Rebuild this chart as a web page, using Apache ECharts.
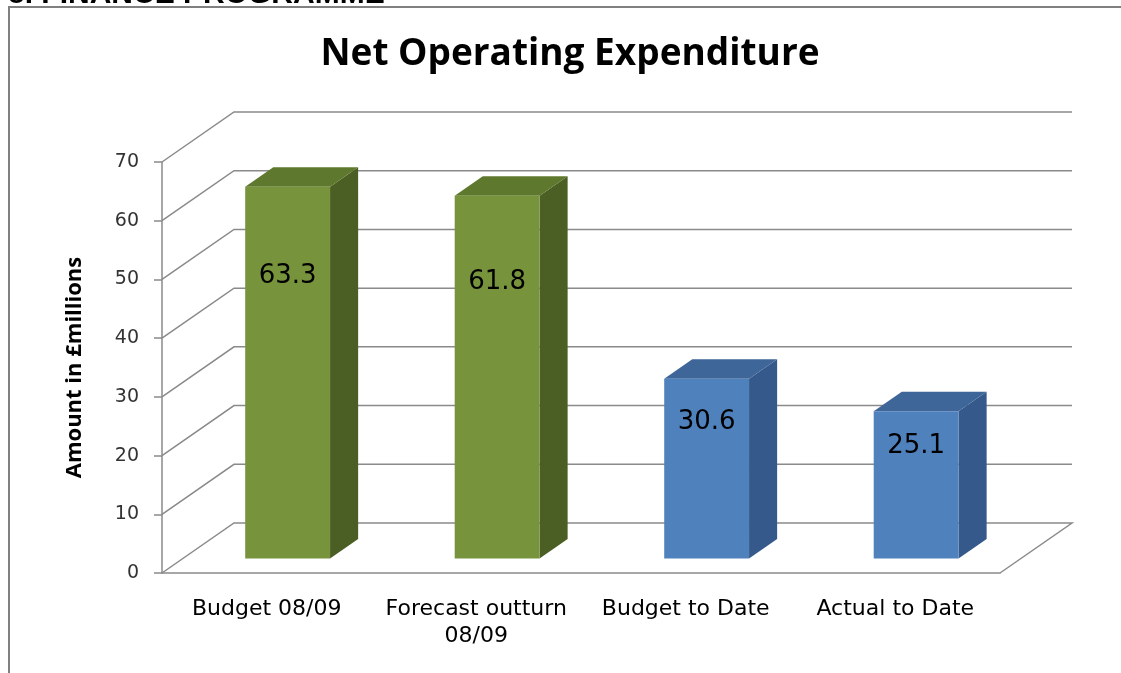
<!DOCTYPE html>
<html>
<head>
<meta charset="utf-8">
<script src="https://cdn.jsdelivr.net/npm/echarts@6/dist/echarts.min.js"></script>
<style>
  html, body { margin: 0; padding: 0; background: #fff; }
  #main { width: 1121px; height: 673px; }
</style>
</head>
<body>
<div id="main"></div>
<script>
const categories = ['Budget 08/09', 'Forecast outturn\n08/09', 'Budget to Date', 'Actual to Date'];
const amounts = [63.3, 61.8, 30.6, 25.1];
const periods = ['year', 'year', 'toDate', 'toDate'];
const yTicks = [0, 10, 20, 30, 40, 50, 60, 70];

// front, top, side
const palette = {
    year: ['#77933C', '#5E782E', '#4B5F24'],
    toDate: ['#4F81BD', '#3E6699', '#34598A']
};

// depth of the 3d box in pixels
const DX = 72, DY = -50;
const gridColor = '#8A8A8A';

let chart = echarts.init(document.getElementById('main'));

let option = {
    backgroundColor: '#fff',
    animation: false,
    title: {
        text: 'Net Operating Expenditure',
        left: 565,
        textAlign: 'center',
        top: 31,
        textStyle: {
            fontFamily: 'Open Sans',
            fontWeight: 'bold',
            fontSize: 37,
            color: '#000'
        }
    },
    graphic: [
        {
            type: 'text',
            left: 8,
            top: -20,
            style: {
                text: '8. FINANCE PROGRAMME',
                font: 'bold 30px "Liberation Sans"',
                fill: '#000'
            }
        },
        {
            type: 'polyline',
            shape: { points: [[9, 673], [9, 7], [1121, 7]] },
            style: { stroke: '#808080', lineWidth: 2, fill: null }
        }
    ],
    grid: {
        left: 162,
        top: 162,
        width: 838,
        height: 411
    },
    xAxis: {
        type: 'category',
        data: categories,
        axisLine: { lineStyle: { color: gridColor, width: 1.5 } },
        axisTick: { show: false },
        axisLabel: {
            interval: 0,
            margin: 23,
            fontFamily: 'DejaVu Sans',
            fontSize: 22,
            lineHeight: 27,
            color: '#000'
        }
    },
    yAxis: {
        type: 'value',
        min: 0,
        max: 70,
        interval: 10,
        name: 'Amount in £millions',
        nameLocation: 'middle',
        nameGap: 76,
        nameTextStyle: {
            fontFamily: 'Open Sans',
            fontWeight: 'bold',
            fontSize: 22,
            color: '#000'
        },
        axisLine: { show: true, lineStyle: { color: gridColor, width: 1.5 } },
        axisTick: { show: true, length: 8, lineStyle: { color: gridColor, width: 1.5 } },
        splitLine: { show: false },
        axisLabel: {
            margin: 23,
            fontFamily: 'DejaVu Sans',
            fontSize: 19,
            color: '#333'
        }
    },
    series: [
        {
            // side wall + back wall gridlines
            type: 'custom',
            silent: true,
            clip: false,
            data: yTicks.map(function (v) { return [0, v]; }),
            renderItem: function (params, api) {
                let cs = params.coordSys;
                let y = api.coord([0, api.value(1)])[1];
                let pts = [[cs.x, y], [cs.x + DX, y + DY], [cs.x + cs.width + DX, y + DY]];
                if (api.value(1) === 0) {
                    pts.push([cs.x + cs.width, y]); // right edge of the floor
                }
                return {
                    type: 'polyline',
                    shape: { points: pts },
                    style: { stroke: gridColor, lineWidth: 1.5, fill: null }
                };
            }
        },
        {
            type: 'custom',
            clip: false,
            data: amounts.map(function (v, i) { return [i, v]; }),
            renderItem: function (params, api) {
                let i = api.value(0);
                let v = api.value(1);
                let base = api.coord([i, 0]);
                let top = api.coord([i, v]);
                let bw = api.size([1, 0])[0] * 0.405;
                let f0 = 0.29, f1 = 0.68;
                let ddx = DX * (f1 - f0), ddy = DY * (f1 - f0);
                let x0 = base[0] - bw / 2 + DX * f0;
                let x1 = x0 + bw;
                let yb = base[1] + DY * f0;
                let yt = top[1] + DY * f0;
                let c = palette[periods[i]];
                return {
                    type: 'group',
                    children: [
                        {
                            type: 'polygon',
                            shape: { points: [[x1, yt], [x1 + ddx, yt + ddy], [x1 + ddx, yb + ddy], [x1, yb]] },
                            style: { fill: c[2] }
                        },
                        {
                            type: 'polygon',
                            shape: { points: [[x0, yt], [x1, yt], [x1 + ddx, yt + ddy], [x0 + ddx, yt + ddy]] },
                            style: { fill: c[1] }
                        },
                        {
                            type: 'rect',
                            shape: { x: x0, y: yt, width: bw, height: yb - yt },
                            style: { fill: c[0] }
                        },
                        {
                            type: 'text',
                            x: x0 + bw / 2,
                            y: yb - (yb - yt) * 0.76,
                            style: {
                                text: v.toFixed(1),
                                align: 'center',
                                verticalAlign: 'middle',
                                font: '26px "DejaVu Sans"',
                                fill: '#000'
                            }
                        }
                    ]
                };
            }
        }
    ]
};

chart.setOption(option);
</script>
</body>
</html>
